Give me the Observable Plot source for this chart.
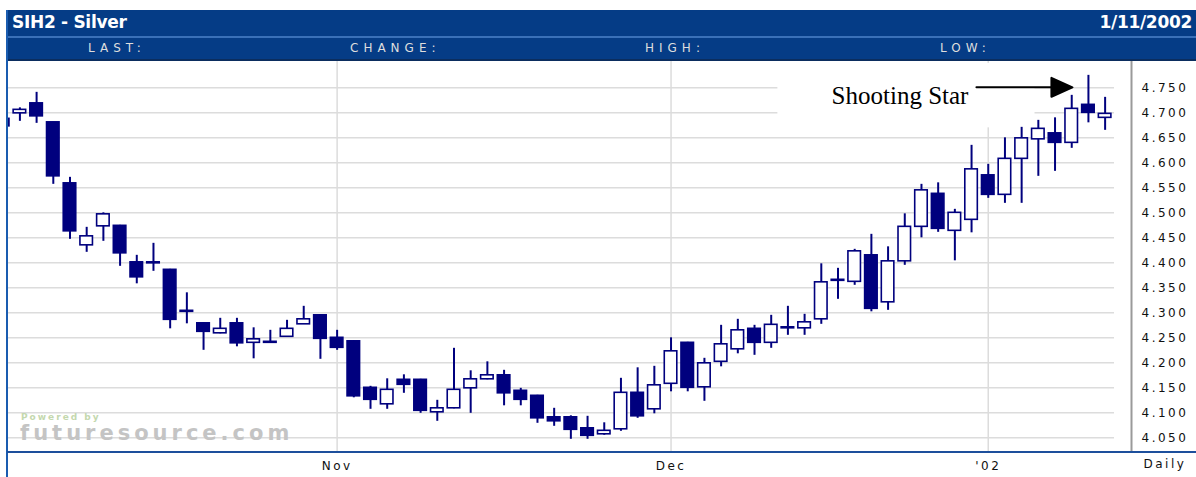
<!DOCTYPE html>
<html><head><meta charset="utf-8">
<script src="https://cdn.jsdelivr.net/npm/d3@7"></script>
<script src="https://cdn.jsdelivr.net/npm/@observablehq/plot@0.6"></script>
<style>
body{margin:0;background:#fff;}
#wrap{position:relative;width:1196px;height:477px;overflow:hidden;background:#fff;font-family:"DejaVu Sans",sans-serif;}
.bar1{position:absolute;left:7px;right:0;top:10px;height:26px;background:#053c86;}
.sep{position:absolute;left:7px;right:0;top:36px;height:2px;background:#3a70b8;}
.bar2{position:absolute;left:7px;right:0;top:38px;height:21px;background:#053c86;}
.sep2{position:absolute;left:7px;right:0;top:59px;height:2px;background:#0b2d5e;}
.title{position:absolute;left:12px;top:12px;color:#fff;font:bold 17px "DejaVu Sans",Verdana,sans-serif;letter-spacing:-0.3px;}
.date{position:absolute;right:4px;top:12px;color:#fff;font:bold 17px "DejaVu Sans",Verdana,sans-serif;letter-spacing:-0.3px;}
.col{position:absolute;top:41px;color:#dedede;font:12px "DejaVu Sans",sans-serif;letter-spacing:5px;}
#chart{position:absolute;left:0;top:61px;}
.lb{position:absolute;left:6px;top:10px;width:2px;height:467px;background:#1a5cb0;}
.bl{position:absolute;left:7px;right:0;top:451px;height:2px;background:#1d4f9c;}
.wm1{position:absolute;left:21px;top:412px;color:#c4d8ae;font:bold 9px "DejaVu Sans",sans-serif;letter-spacing:2px;}
.wm2{position:absolute;left:20px;top:421px;color:#c4c4c4;font:bold 21px "DejaVu Sans",sans-serif;letter-spacing:4px;}
</style></head>
<body>
<div id="wrap">
  <div class="bar1"></div><div class="sep"></div><div class="bar2"></div><div class="sep2"></div>
  <div class="title" id="title"></div><div class="date" id="date"></div>
  <div id="cols"></div>
  <div id="chart"></div>
  <div class="wm1" id="wm1"></div><div class="wm2" id="wm2"></div>
  <div class="lb"></div><div class="bl"></div>
</div>
<script>
// ---- data ----
const titleText = "SIH2 - Silver";
const dateText = "1/11/2002";
const columnLabels = ["LAST:", "CHANGE:", "HIGH:", "LOW:"];
const columnLeft = [88, 350, 645, 940];
const opens  = [4.688,4.699,4.719,4.681,4.559,4.435,4.473,4.474,4.401,4.399,4.386,4.302,4.279,4.259,4.279,4.240,4.240,4.252,4.277,4.295,4.250,4.243,4.150,4.117,4.166,4.166,4.101,4.109,4.149,4.167,4.175,4.144,4.134,4.091,4.091,4.069,4.057,4.067,4.140,4.107,4.158,4.240,4.151,4.202,4.227,4.268,4.240,4.269,4.269,4.287,4.364,4.362,4.415,4.321,4.403,4.472,4.538,4.464,4.486,4.575,4.536,4.608,4.647,4.659,4.640,4.716,4.690];
const highs  = [4.692,4.710,4.741,4.681,4.571,4.471,4.500,4.475,4.415,4.439,4.387,4.340,4.280,4.289,4.289,4.270,4.265,4.285,4.313,4.296,4.265,4.244,4.153,4.168,4.176,4.167,4.125,4.229,4.184,4.202,4.185,4.149,4.135,4.109,4.094,4.093,4.080,4.169,4.190,4.193,4.250,4.241,4.209,4.275,4.287,4.275,4.295,4.313,4.297,4.398,4.389,4.427,4.457,4.432,4.498,4.557,4.560,4.507,4.635,4.597,4.650,4.671,4.685,4.690,4.735,4.775,4.731];
const lows   = [4.670,4.683,4.679,4.557,4.447,4.421,4.443,4.393,4.358,4.383,4.268,4.278,4.225,4.258,4.232,4.208,4.240,4.252,4.277,4.207,4.225,4.130,4.107,4.107,4.139,4.099,4.083,4.108,4.099,4.166,4.114,4.114,4.079,4.073,4.047,4.047,4.055,4.063,4.089,4.098,4.142,4.142,4.123,4.192,4.218,4.215,4.229,4.255,4.255,4.277,4.327,4.355,4.302,4.305,4.395,4.450,4.461,4.404,4.460,4.529,4.519,4.519,4.573,4.583,4.629,4.680,4.665];
const closes = [4.673,4.706,4.693,4.573,4.463,4.453,4.497,4.419,4.371,4.401,4.286,4.304,4.262,4.268,4.239,4.247,4.242,4.268,4.287,4.248,4.230,4.133,4.126,4.146,4.156,4.104,4.109,4.146,4.167,4.175,4.139,4.126,4.089,4.083,4.066,4.054,4.064,4.140,4.093,4.155,4.223,4.150,4.199,4.237,4.265,4.240,4.276,4.271,4.281,4.361,4.366,4.423,4.308,4.403,4.472,4.545,4.468,4.500,4.587,4.536,4.608,4.649,4.668,4.640,4.708,4.700,4.698];
const yTicks = [4.05,4.10,4.15,4.20,4.25,4.30,4.35,4.40,4.45,4.50,4.55,4.60,4.65,4.70,4.75];
const monthTickIndex = [20, 40, 59];
const monthLabels = ["Nov", "Dec", "'02"];
const periodLabel = "Daily";
const starIndex = 65;
const starLabel = "Shooting Star";
const wmSmall = "Powered by";
const wmBig = "futuresource.com";

// ---- header ----
document.getElementById("title").textContent = titleText;
document.getElementById("date").textContent = dateText;
const cols = document.getElementById("cols");
columnLabels.forEach((t, i) => {
  const d = document.createElement("div");
  d.className = "col"; d.style.left = columnLeft[i] + "px"; d.textContent = t;
  cols.appendChild(d);
});
document.getElementById("wm1").textContent = wmSmall;
document.getElementById("wm2").textContent = wmBig;

// ---- chart ----
const candles = opens.map((o, i) => ({i, open: o, high: highs[i], low: lows[i], close: closes[i], down: closes[i] < o}));
const star = candles[starIndex];
const navy = "#00007e";
const xDomain = [0.317, 67.58];
const arrowShape = {
  draw(context, l) {
    context.moveTo(0, 0);
    context.lineTo(0, -l + 18);
    context.moveTo(0, -l);
    context.lineTo(-9.5, -l + 21);
    context.lineTo(9.5, -l + 21);
    context.closePath();
  }
};

const chart = Plot.plot({
  width: 1196, height: 416,
  marginLeft: 8, marginRight: 65, marginTop: 0, marginBottom: 25,
  x: {type: "linear", domain: xDomain, axis: null, label: null},
  y: {domain: [4.0206, 4.8027], axis: null, label: null},
  style: {background: "transparent", fontFamily: "DejaVu Sans, sans-serif", overflow: "visible", color: "#111"},
  marks: [
    Plot.gridY(yTicks, {stroke: "#dcdcdc", strokeOpacity: 1, strokeWidth: 1.5, insetRight: 17}),
    Plot.gridX(monthTickIndex, {stroke: "#dcdcdc", strokeOpacity: 1, strokeWidth: 1.5}),
    // white backing of the pasted annotation
    Plot.rect([star], {x1: d => d.i - 18.6, x2: d => d.i - 3.2, y1: d => d.high - 0.105, y2: d => d.high + 0.024, fill: "#fff"}),
    Plot.ruleX([xDomain[1]], {stroke: "#9a9a9a", strokeWidth: 2}),
    Plot.ruleX(candles, {x: "i", y1: "low", y2: "high", stroke: navy, strokeWidth: 2, clip: true}),
    Plot.rect(candles, {x1: d => d.i - 0.375, x2: d => d.i + 0.375, y1: "open", y2: "close",
      fill: d => d.down ? navy : "#fff", stroke: navy, strokeWidth: 1.6, clip: true}),
    Plot.axisY(yTicks, {anchor: "right", tickSize: 0, tickPadding: 10, tickFormat: d => d.toFixed(3), fontSize: 12, fill: "#111", label: null}),
    Plot.axisX(monthTickIndex, {tickSize: 0, tickPadding: 9, tickFormat: (d, i) => monthLabels[i], fontSize: 12, fill: "#111", label: null}),
    Plot.text([periodLabel], {frameAnchor: "bottom-right", dx: 12, dy: 15, textAnchor: "start", fontSize: 12, fill: "#111"}),
    Plot.text([star], {x: "i", y: "high", text: () => starLabel, dx: -120, dy: 21, textAnchor: "end",
      fontFamily: "Liberation Serif, Times New Roman, serif", fontSize: 25, fill: "#000"}),
    Plot.vector([star], {x: "i", y: "high", dx: -16, dy: 12, rotate: 90, length: 96, anchor: "end",
      shape: arrowShape, stroke: "#000", fill: "#000", strokeWidth: 2})
  ]
});
d3.select(chart).selectAll("text").style("letter-spacing", "2.5px");
d3.select(chart).selectAll("text").filter(function() { return this.textContent === starLabel; }).style("letter-spacing", "0px");
document.getElementById("chart").appendChild(chart);
</script>
</body></html>
